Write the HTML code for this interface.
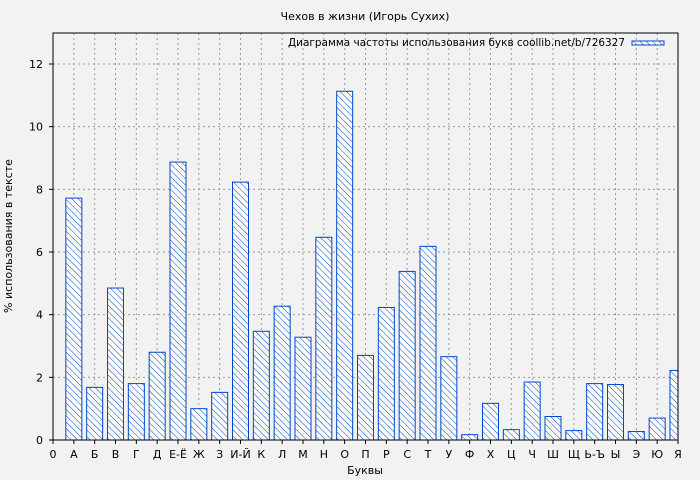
<!DOCTYPE html>
<html><head><meta charset="utf-8"><style>body{margin:0;background:#f2f2f2}svg{display:block}text{font-family:"DejaVu Sans","Liberation Sans",sans-serif;font-size:11px;fill:#000}</style></head>
<body>
<svg width="700" height="480" xmlns="http://www.w3.org/2000/svg">
<defs>
<pattern id="h" width="4.5" height="4.5" patternUnits="userSpaceOnUse" patternTransform="rotate(-45)">
<rect width="4.5" height="4.5" fill="#fff"/><line x1="0" y1="0" x2="0" y2="4.5" stroke="#0047c8" stroke-width="1"/></pattern>
<clipPath id="c"><rect x="53" y="33" width="625" height="407"/></clipPath>
</defs>
<rect width="700" height="480" fill="#f2f2f2"/>
<text x="365" y="20" text-anchor="middle" font-size="10">Чехов в жизни (Игорь Сухих)</text>
<g id="grid" stroke="#999" stroke-dasharray="2,3" stroke-width="1"></g>
<g id="bars" clip-path="url(#c)"></g>
<rect x="53" y="33" width="625" height="407" fill="none" stroke="#000"/>
<g id="ax"></g>
<text x="625" y="46" text-anchor="end" font-size="10" textLength="337" lengthAdjust="spacingAndGlyphs">Диаграмма частоты использования букв coollib.net/b/726327</text>
<rect x="632" y="41" width="32" height="4" fill="url(#h)" stroke="#0047c8"/>
<text x="365" y="474" text-anchor="middle" font-size="10.5">Буквы</text>
<text transform="translate(12,236) rotate(-90)" text-anchor="middle" font-size="10.5">% использования в тексте</text>
</svg>
<script>
var L=["0","А","Б","В","Г","Д","Е-Ё","Ж","З","И-Й","К","Л","М","Н","О","П","Р","С","Т","У","Ф","Х","Ц","Ч","Ш","Щ","Ь-Ъ","Ы","Э","Ю","Я"];
var V=[7.72,1.68,4.85,1.8,2.8,8.87,1.0,1.52,8.23,3.47,4.27,3.28,6.47,11.13,2.7,4.23,5.38,6.18,2.66,0.17,1.17,0.33,1.85,0.75,0.3,1.8,1.77,0.27,0.7,2.22];
var ns="http://www.w3.org/2000/svg";
function el(p,t,a,tx){var e=document.createElementNS(ns,t);for(var k in a)e.setAttribute(k,a[k]);if(tx)e.textContent=tx;document.getElementById(p).appendChild(e);}
var dx=625/30,sy=376/12;
for(var i=0;i<=30;i++){var x=53+i*dx;
 if(i>0&&i<30)el("grid","line",{x1:x,y1:33,x2:x,y2:440});
 el("ax","line",{x1:x,y1:440,x2:x,y2:444,stroke:"#000"});
 el("ax","text",{x:x,y:458,"text-anchor":"middle","font-size":"10.5"},L[i]);}
for(var j=0;j<=12;j+=2){var y=440-j*sy;
 if(j>0)el("grid","line",{x1:53,y1:y,x2:678,y2:y});
 el("ax","line",{x1:49,y1:y,x2:53,y2:y,stroke:"#000"});
 el("ax","text",{x:43,y:y+4,"text-anchor":"end","font-size":"10.5"},String(j));}
for(var i=0;i<30;i++){var x=53+(i+1)*dx,h=V[i]*sy;
 el("bars","rect",{x:x-8,y:440-h,width:16,height:h,fill:"url(#h)",stroke:"#0047c8","stroke-width":1});}
</script>
</body></html>
